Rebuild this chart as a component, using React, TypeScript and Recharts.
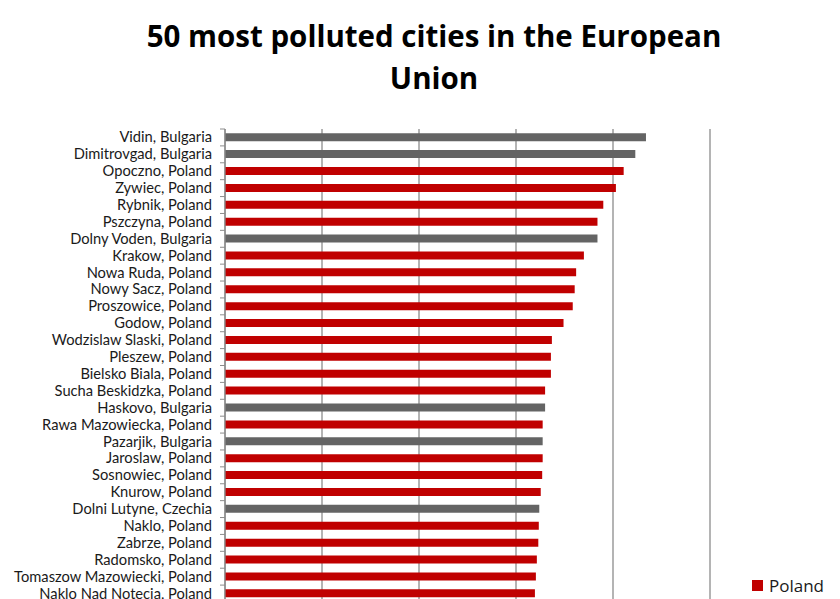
import React from "react";
import { BarChart, Bar, XAxis, YAxis, CartesianGrid, Cell } from "recharts";

const cities = [
  "Vidin, Bulgaria",
  "Dimitrovgad, Bulgaria",
  "Opoczno, Poland",
  "Zywiec, Poland",
  "Rybnik, Poland",
  "Pszczyna, Poland",
  "Dolny Voden, Bulgaria",
  "Krakow, Poland",
  "Nowa Ruda, Poland",
  "Nowy Sacz, Poland",
  "Proszowice, Poland",
  "Godow, Poland",
  "Wodzislaw Slaski, Poland",
  "Pleszew, Poland",
  "Bielsko Biala, Poland",
  "Sucha Beskidzka, Poland",
  "Haskovo, Bulgaria",
  "Rawa Mazowiecka, Poland",
  "Pazarjik, Bulgaria",
  "Jaroslaw, Poland",
  "Sosnowiec, Poland",
  "Knurow, Poland",
  "Dolni Lutyne, Czechia",
  "Naklo, Poland",
  "Zabrze, Poland",
  "Radomsko, Poland",
  "Tomaszow Mazowiecki, Poland",
  "Naklo Nad Notecia, Poland",
];

const values = [
  43.4, 42.3, 41.1, 40.3, 39.0, 38.4, 38.4, 37.0, 36.2, 36.05, 35.85, 34.9,
  33.7, 33.6, 33.6, 33.0, 33.0, 32.75, 32.75, 32.75, 32.7, 32.55, 32.4, 32.35,
  32.3, 32.15, 32.05, 31.95,
];

const xTicks = [0, 10, 20, 30, 40, 50];

const RED = "#C00000";
const GRAY = "#646464";
const LINE = "#8c8c8c";

const data = cities.map((city, i) => ({
  city,
  pm: values[i],
  poland: city.endsWith("Poland"),
}));

const CityTick = (props: any) => {
  const { x, y, payload } = props;
  const off = payload && payload.offset ? payload.offset : 0;
  return (
    <g>
      <line x1={x + 3} x2={x + 8} y1={y - off} y2={y - off} stroke={LINE} strokeWidth={1} />
      <text
        x={x - 5}
        y={y}
        dy={5}
        textAnchor="end"
        fontFamily="Lato, sans-serif"
        fontSize={14.7}
        fill="#1a1a1a"
      >
        {payload.value}
      </text>
    </g>
  );
};

const NoTick = () => <g />;

export default function App() {
  return (
    <div
      style={{
        position: "fixed",
        left: 0,
        top: 0,
        width: 840,
        height: 599,
        overflow: "hidden",
        background: "#fff",
      }}
    >
      <div
        style={{
          position: "absolute",
          left: 84,
          width: 700,
          top: 15,
          textAlign: "center",
          fontFamily: "'Open Sans', sans-serif",
          fontWeight: 700,
          fontSize: 29.5,
          lineHeight: "42px",
          color: "#000",
        }}
      >
        50 most polluted cities in the European
        <br />
        Union
      </div>
      <div
        style={{
          position: "absolute",
          left: 752,
          top: 574,
          display: "flex",
          alignItems: "center",
          fontFamily: "'Open Sans', sans-serif",
          fontSize: 17,
          color: "#1a1a1a",
        }}
      >
        <span
          style={{
            display: "inline-block",
            width: 11,
            height: 11,
            background: RED,
            marginRight: 6,
          }}
        />
        Poland
      </div>
      <BarChart
        width={840}
        height={637}
        data={data}
        layout="vertical"
        margin={{ top: 129, right: 130, left: 0, bottom: 5 }}
        barCategoryGap="25%"
      >
        <CartesianGrid horizontal={false} vertical={true} stroke={LINE} strokeWidth={1.3} />
        <XAxis
          type="number"
          domain={[0, 50]}
          ticks={xTicks}
          axisLine={false}
          tickLine={false}
          tick={<NoTick />}
          height={30}
        />
        <YAxis
          type="category"
          dataKey="city"
          width={225}
          interval={0}
          tickLine={false}
          axisLine={{ stroke: LINE, strokeWidth: 1.3 }}
          tick={<CityTick />}
        />
        <Bar dataKey="pm" isAnimationActive={false}>
          {data.map((d, i) => (
            <Cell key={i} fill={d.poland ? RED : GRAY} />
          ))}
        </Bar>
      </BarChart>
    </div>
  );
}
